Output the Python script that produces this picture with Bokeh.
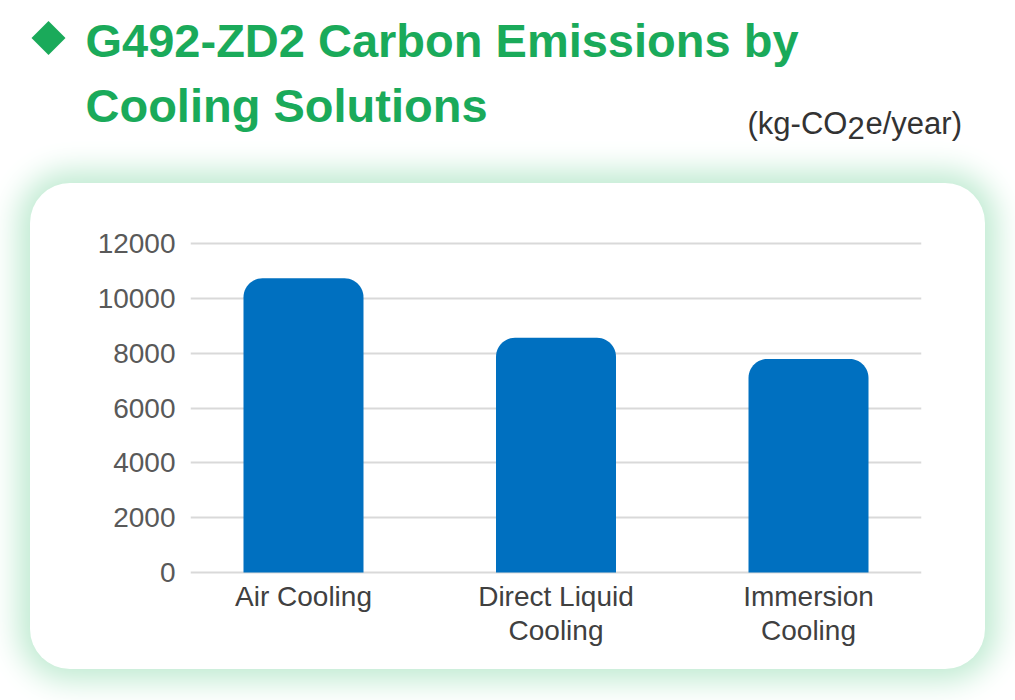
import numpy as np
from bokeh.plotting import figure
from bokeh.layouts import column
from bokeh.models import Range1d, FixedTicker, ColumnDataSource
from bokeh.core.properties import value
from bokeh.embed import file_html
from bokeh.resources import INLINE

# ---------------- data ----------------
categories = ["Air Cooling", "Direct Liquid Cooling", "Immersion Cooling"]
tick_labels = ["Air Cooling", "Direct Liquid\nCooling", "Immersion\nCooling"]
emissions = [10730, 8560, 7790]
y_ticks = [0, 2000, 4000, 6000, 8000, 10000, 12000]
title_lines = ["G492-ZD2 Carbon Emissions by", "Cooling Solutions"]
unit_parts = ["(kg-CO", "2", "e/year)"]

GREEN = "#1aaa5a"
BLUE = "#0070c0"
FONT = "Liberation Sans"

# ---------------- header ----------------
W = 999
HEAD_H = 183
head = figure(width=W, height=HEAD_H, x_range=Range1d(0, W), y_range=Range1d(HEAD_H, 0),
              title=None, x_axis_type=None, y_axis_type=None, toolbar_location=None,
              output_backend="svg", min_border=0, outline_line_color=None,
              border_fill_color=None, background_fill_color=None,
              frame_align=False)
head.grid.visible = False
head.scatter(x=[48], y=[37.5], marker="square", size=24, angle=np.pi / 4,
             fill_color=GREEN, line_color=None)
head.text(x=[85, 85], y=[40, 105], text=title_lines, text_font=value(FONT),
          text_font_style="bold", text_font_size="47px", text_color=GREEN,
          text_baseline="alphabetic", text_align="left")
head.text(x=[747, 847, 865], y=[123, 127, 123], text=unit_parts, text_font=value(FONT),
          text_font_size="31px", text_color="#333333",
          text_baseline="alphabetic", text_align="left")

# ---------------- chart panel ----------------
PW, PH = 955, 486
FL, FR, FT = 160, 64, 58
FH = 333
FB = PH - FT - FH
FW = PW - FL - FR
y0, y1 = -73, 12073
x0, x1 = -0.4475, 2.4475

chart = figure(width=PW, height=PH, x_range=Range1d(x0, x1), y_range=Range1d(y0, y1),
               title=None, toolbar_location=None, output_backend="svg",
               min_border_left=FL, min_border_right=FR, min_border_top=FT,
               min_border_bottom=FB, outline_line_color=None,
               border_fill_color=None, background_fill_color=None,
               margin=(0, 0, 0, 30), frame_align=False,
               styles={"background-color": "white", "border-radius": "40px",
                       "box-shadow": "0 0 30px 12px rgb(192, 235, 210)"})

# y axis
chart.yaxis.ticker = FixedTicker(ticks=y_ticks)
chart.yaxis.axis_line_color = None
chart.yaxis.major_tick_line_color = None
chart.yaxis.minor_tick_line_color = None
chart.yaxis.major_tick_out = 0
chart.yaxis.major_label_standoff = 15
chart.yaxis.major_label_text_font = FONT
chart.yaxis.major_label_text_font_size = "28px"
chart.yaxis.major_label_text_color = "#595959"

# x axis
xpos = list(range(len(categories)))
chart.xaxis.ticker = FixedTicker(ticks=xpos)
chart.xaxis.major_label_overrides = {i: lab for i, lab in zip(xpos, tick_labels)}
chart.xaxis.axis_line_color = None
chart.xaxis.major_tick_line_color = None
chart.xaxis.minor_tick_line_color = None
chart.xaxis.major_tick_out = 0
chart.xaxis.major_label_standoff = 6
chart.xaxis.major_label_text_font = FONT
chart.xaxis.major_label_text_font_size = "28px"
chart.xaxis.major_label_text_line_height = 1.1
chart.xaxis.major_label_text_color = "#404040"

chart.xgrid.visible = False
chart.ygrid.ticker = FixedTicker(ticks=y_ticks)
chart.ygrid.grid_line_color = "#d9d9d9"
chart.ygrid.grid_line_width = 2

# bars with rounded tops
px_x = (x1 - x0) / FW
px_y = (y1 - y0) / FH
bar_w = 120 * px_x
rx, ry = 19 * px_x, 19 * px_y
t = np.linspace(0, np.pi / 2, 14)
xs, ys = [], []
for i, v in zip(xpos, emissions):
    l, r = i - bar_w / 2, i + bar_w / 2
    cxl, cxr, cy = l + rx, r - rx, v - ry
    bx = [l] + list(cxl - rx * np.cos(t)) + list(cxr + rx * np.sin(t)) + [r]
    by = [0] + list(cy + ry * np.sin(t)) + list(cy + ry * np.cos(t)) + [0]
    xs.append(bx)
    ys.append(by)
src = ColumnDataSource(dict(xs=xs, ys=ys, category=categories, value=emissions))
chart.patches("xs", "ys", source=src, fill_color=BLUE, line_color=None)

layout = column(head, chart, spacing=0)
open("out.html", "w").write(file_html(layout, INLINE))
